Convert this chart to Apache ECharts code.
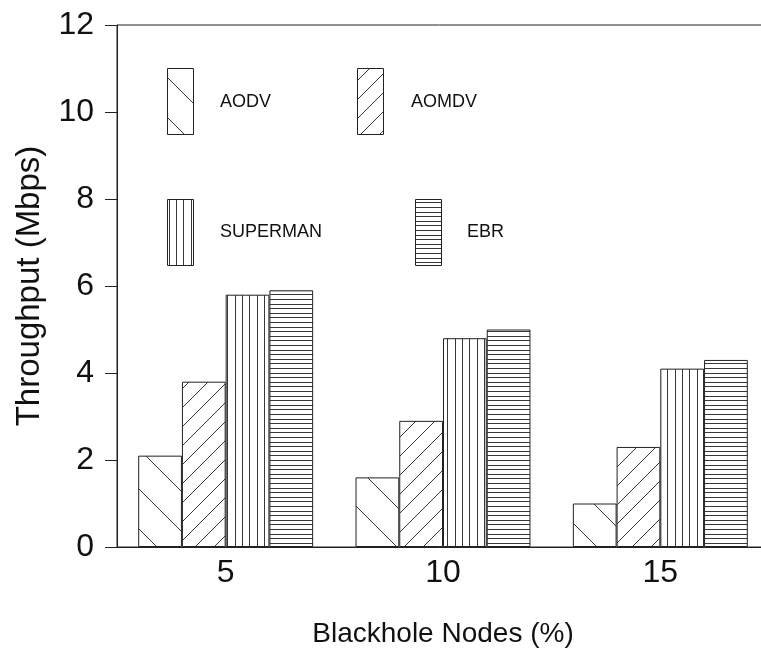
<!DOCTYPE html>
<html>
<head>
<meta charset="utf-8">
<title>Throughput vs Blackhole Nodes</title>
<script src="https://cdn.jsdelivr.net/npm/echarts@6/dist/echarts.min.js"></script>
<style>
  html, body { margin: 0; padding: 0; background: #fff; }
  #chart { width: 761px; height: 648px; }
</style>
</head>
<body>
<div id="chart"></div>
<script>
// Blackhole node percentages on the x axis
const categories = ['5', '10', '15'];
// Throughput (Mbps) per routing protocol
const aodv = [2.1, 1.6, 1.0];
const aomdv = [3.8, 2.9, 2.3];
const superman = [5.8, 4.8, 4.1];
const ebr = [5.9, 5.0, 4.3];
const seriesNames = ['AODV', 'AOMDV', 'SUPERMAN', 'EBR'];
const yTicks = [0, 2, 4, 6, 8, 10, 12];

const FONT = "'Liberation Sans', Arial, sans-serif";
const INK = '#111';
const HATCH = '#383838';

// Build a repeating hatch tile on an offscreen canvas
function hatchTile(w, h, draw) {
  const c = document.createElement('canvas');
  c.width = w; c.height = h;
  const g = c.getContext('2d');
  g.fillStyle = '#fff';
  g.fillRect(0, 0, w, h);
  g.strokeStyle = HATCH;
  g.lineWidth = 1;
  g.beginPath();
  draw(g, w, h);
  g.stroke();
  return { image: c, repeat: 'repeat' };
}

// "\" wide diagonals
const backDiag = hatchTile(40, 40, (g, w, h) => {
  for (let k = -2; k <= 1; k++) { g.moveTo(k * w + 10, 0); g.lineTo(k * w + 10 + w, h); }
});
// "/" tighter diagonals
const fwdDiag = hatchTile(19, 19, (g, w, h) => {
  for (let k = -1; k <= 2; k++) { g.moveTo(k * w + 1, h); g.lineTo(k * w + 1 + w, 0); }
});
// vertical lines
const vLines = hatchTile(22, 4, (g, w, h) => {
  [0, 7, 15].forEach(x => { g.moveTo(x + 0.5, 0); g.lineTo(x + 0.5, h); });
});
// horizontal lines
const hLines = hatchTile(4, 23, (g, w, h) => {
  [0, 5, 9, 14, 18].forEach(y => { g.moveTo(0, y + 0.5); g.lineTo(w, y + 0.5); });
});

const patterns = [backDiag, fwdDiag, vLines, hLines];
const values = [aodv, aomdv, superman, ebr];

const chart = echarts.init(document.getElementById('chart'), null, { renderer: 'canvas' });

// Legend swatches and labels placed inside the plot area
const legendSpots = [
  { x: 167, y: 68, tx: 220, ty: 102 },
  { x: 357, y: 68, tx: 411, ty: 102 },
  { x: 167, y: 199, tx: 220, ty: 232 },
  { x: 415, y: 199, tx: 467, ty: 232 }
];
const legendGraphics = [];
legendSpots.forEach((p, i) => {
  legendGraphics.push({
    type: 'rect',
    shape: { x: p.x + 0.5, y: p.y + 0.5, width: 26, height: 66 },
    style: { fill: patterns[i], stroke: '#222', lineWidth: 1 },
    z: 10
  });
  legendGraphics.push({
    type: 'text',
    style: {
      x: p.tx, y: p.ty, text: seriesNames[i],
      font: '18px ' + FONT, fill: INK,
      verticalAlign: 'middle', align: 'left'
    },
    z: 10
  });
});

chart.setOption({
  animation: false,
  backgroundColor: '#fff',
  grid: {
    left: 117, top: 25, width: 652, height: 522,
    outerBoundsMode: 'none',
    containLabel: false,
    show: true, borderColor: '#222', borderWidth: 1,
    backgroundColor: 'transparent'
  },
  xAxis: {
    type: 'category',
    data: categories,
    name: 'Blackhole Nodes (%)',
    nameLocation: 'middle',
    nameGap: 73,
    nameTextStyle: { fontFamily: FONT, fontSize: 28, color: INK },
    axisLine: { show: true, lineStyle: { color: '#222', width: 1 } },
    axisTick: { show: false },
    axisLabel: { fontFamily: FONT, fontSize: 32, color: INK, margin: 10 },
    splitLine: { show: false }
  },
  yAxis: {
    type: 'value',
    min: yTicks[0],
    max: yTicks[yTicks.length - 1],
    interval: 2,
    name: 'Throughput (Mbps)',
    nameLocation: 'middle',
    nameRotate: 90,
    nameGap: 71,
    nameTextStyle: { fontFamily: FONT, fontSize: 33, color: INK },
    axisLine: { show: true, lineStyle: { color: '#222', width: 1 } },
    axisTick: { show: true, inside: false, length: 12, lineStyle: { color: '#222' } },
    axisLabel: { fontFamily: FONT, fontSize: 32, color: INK, margin: 23 },
    splitLine: { show: false }
  },
  series: seriesNames.map((name, i) => ({
    name: name,
    type: 'bar',
    data: values[i],
    barGap: '0%',
    barCategoryGap: '19.5%',
    itemStyle: { color: patterns[i], borderColor: '#222', borderWidth: 1 },
    emphasis: { disabled: true }
  })),
  graphic: legendGraphics
});
</script>
</body>
</html>
